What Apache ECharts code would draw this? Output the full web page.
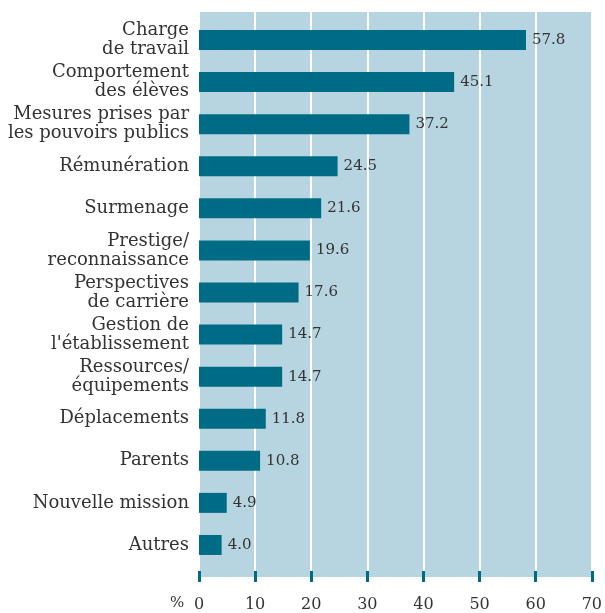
<!DOCTYPE html>
<html>
<head>
<meta charset="utf-8">
<script src="https://cdn.jsdelivr.net/npm/echarts@6/dist/echarts.min.js"></script>
<style>
  html, body { margin: 0; padding: 0; background: #fff; }
  #chart { width: 605px; height: 613px; }
</style>
</head>
<body>
<div id="chart"></div>
<script>
const categories = [
  'Charge\nde travail',
  'Comportement\ndes élèves',
  'Mesures prises par\nles pouvoirs publics',
  'Rémunération',
  'Surmenage',
  'Prestige/\nreconnaissance',
  'Perspectives\nde carrière',
  'Gestion de\nl\'établissement',
  'Ressources/\néquipements',
  'Déplacements',
  'Parents',
  'Nouvelle mission',
  'Autres'
]
const values = [57.8, 45.1, 37.2, 24.5, 21.6, 19.6, 17.6, 14.7, 14.7, 11.8, 10.8, 4.9, 4.0]
const xTicks = [0, 10, 20, 30, 40, 50, 60, 70]
const unitLabel = '%'

const barColor = '#006b85'
const bgColor = '#b7d5e0'
const textColor = '#333'
const font = 'DejaVu Serif'

const chart = echarts.init(document.getElementById('chart'))

const option = {
  animation: false,
  grid: [
    // background + vertical grid lines + ticks
    { left: 199, right: 10, top: 12, bottom: 35, show: true, backgroundColor: bgColor, borderWidth: 0 },
    // bars
    { left: 199, right: 10, top: 19, bottom: 47 }
  ],
  graphic: [
    {
      type: 'text',
      left: 170,
      top: 596,
      style: { text: unitLabel, fill: textColor, font: '15px "DejaVu Serif"' }
    }
  ],
  xAxis: [
    {
      gridIndex: 0,
      type: 'value',
      min: xTicks[0],
      max: xTicks[xTicks.length - 1],
      interval: 10,
      offset: -6,
      axisLine: { show: false },
      axisTick: { show: true, length: 11, lineStyle: { color: barColor, width: 3 } },
      axisLabel: { color: textColor, fontFamily: font, fontSize: 16, margin: 26 },
      splitLine: { show: true, lineStyle: { color: '#ffffff', width: 2 } }
    },
    {
      gridIndex: 1,
      type: 'value',
      min: 0,
      max: 70,
      show: false
    }
  ],
  yAxis: [
    {
      gridIndex: 0,
      type: 'category',
      show: false,
      data: ['']
    },
    {
      gridIndex: 1,
      type: 'category',
      inverse: true,
      data: categories,
      axisLine: { show: false },
      axisTick: { show: false },
      axisLabel: {
        color: textColor,
        fontFamily: font,
        fontSize: 18,
        lineHeight: 19,
        margin: 10,
        align: 'right'
      }
    }
  ],
  series: [
    {
      type: 'bar',
      xAxisIndex: 1,
      yAxisIndex: 1,
      data: values,
      barWidth: 20,
      itemStyle: { color: barColor },
      label: {
        show: true,
        position: 'right',
        distance: 6,
        color: textColor,
        fontFamily: font,
        fontSize: 15,
        formatter: (p) => p.value.toFixed(1)
      }
    }
  ]
}

chart.setOption(option)
</script>
</body>
</html>
